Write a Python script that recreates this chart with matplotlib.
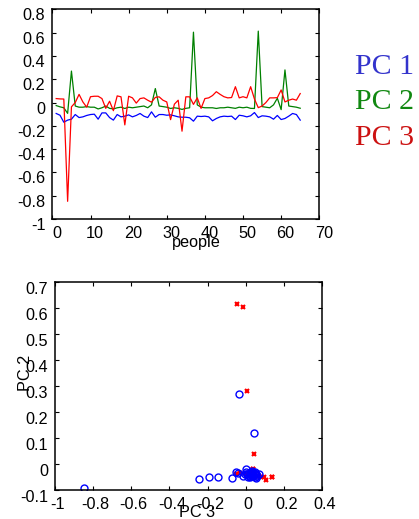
import numpy as np
import matplotlib
matplotlib.use('Agg')
import matplotlib.pyplot as plt
import matplotlib.transforms as mtransforms

plt.rcParams['font.family'] = ['Liberation Sans', 'DejaVu Sans']
plt.rcParams['axes.unicode_minus'] = False

#####################
# DATA
#####################
people = np.arange(1, 66)

pc1 = [-0.094, -0.109, -0.169, -0.151, -0.143, -0.103, -0.129, -0.123, -0.111, -0.103,
       -0.100, -0.143, -0.089, -0.089, -0.129, -0.151, -0.103, -0.123, -0.117, -0.106,
       -0.123, -0.111, -0.094, -0.117, -0.129, -0.080, -0.126, -0.103, -0.103, -0.109,
       -0.106, -0.114, -0.123, -0.126, -0.126, -0.131, -0.160, -0.117, -0.120, -0.117,
       -0.123, -0.157, -0.137, -0.123, -0.117, -0.120, -0.117, -0.146, -0.109, -0.114,
       -0.123, -0.114, -0.086, -0.129, -0.114, -0.117, -0.123, -0.143, -0.111, -0.146,
       -0.137, -0.117, -0.094, -0.103, -0.151]

pc2 = [-0.026, -0.037, -0.045, -0.093, 0.270, -0.030, -0.040, -0.040, -0.035, -0.040,
       -0.040, -0.055, -0.045, -0.030, -0.050, -0.055, -0.045, -0.040, -0.051, -0.040,
       -0.045, -0.040, -0.035, -0.030, -0.045, -0.020, 0.120, -0.030, -0.035, -0.040,
       -0.051, -0.045, -0.050, -0.059, -0.050, -0.045, 0.604, -0.020, -0.040, -0.045,
       -0.045, -0.045, -0.051, -0.045, -0.045, -0.040, -0.045, -0.050, -0.040, -0.045,
       -0.040, -0.050, -0.051, 0.613, -0.035, -0.040, -0.045, -0.020, 0.037, -0.061,
       0.280, -0.030, -0.035, -0.040, -0.049]

pc3 = [0.034, 0.031, 0.030, -0.848, -0.037, 0.000, 0.070, 0.005, -0.040, 0.050,
       0.054, 0.054, 0.034, -0.050, 0.011, -0.070, 0.057, 0.049, -0.192, 0.054,
       0.040, -0.005, 0.034, 0.040, 0.020, 0.003, 0.044, 0.049, 0.020, 0.005,
       -0.147, -0.014, 0.020, -0.246, 0.049, 0.049, -0.016, 0.040, -0.050, 0.034,
       0.040, 0.060, 0.093, 0.070, 0.050, 0.040, 0.043, 0.136, 0.040, 0.050,
       0.040, 0.136, 0.030, -0.044, -0.030, 0.000, 0.040, 0.040, 0.042, 0.108,
       0.005, 0.020, 0.030, 0.020, 0.077]

n_first = 35   # first group drawn as circles, rest as crosses

legend_labels = ['PC 1', 'PC 2', 'PC 3']
legend_colors = ['#3333cc', '#118811', '#cc1111']
line_colors = ['#0000ff', '#008000', '#ff0000']

top_xticks = [0, 10, 20, 30, 40, 50, 60, 70]
top_yticks = [-1, -0.8, -0.6, -0.4, -0.2, 0, 0.2, 0.4, 0.6, 0.8]
bot_xticks = [-1, -0.8, -0.6, -0.4, -0.2, 0, 0.2, 0.4]
bot_yticks = [-0.1, 0, 0.1, 0.2, 0.3, 0.4, 0.5, 0.6, 0.7]

fs = 11.7


def style_axes(ax, xt, yt, dx_px, dy_px):
    ax.set_xticks(xt)
    ax.set_yticks(yt)
    ax.set_xticklabels([f'{v:g}' for v in xt])
    ax.set_yticklabels([f'{v:g}' for v in yt])
    ax.set_xlim(xt[0], xt[-1])
    ax.set_ylim(yt[0], yt[-1])
    ax.tick_params(direction='in', top=True, right=True, length=3, width=0.8,
                   labelsize=fs, pad=5)
    for s in ax.spines.values():
        s.set_linewidth(1.1)
    # labels sit a bit off their ticks, like the original export
    offx = mtransforms.ScaledTranslation(dx_px / 100, 0, fig.dpi_scale_trans)
    offy = mtransforms.ScaledTranslation(0, -dy_px / 100, fig.dpi_scale_trans)
    for lab in ax.get_xticklabels():
        lab.set_transform(lab.get_transform() + offx)
    for lab in ax.get_yticklabels():
        lab.set_transform(lab.get_transform() + offy)


fig = plt.figure(figsize=(4.19, 5.19), dpi=100)

# top: the three components against people
ax1 = fig.add_axes([0.125, 0.578, 0.637, 0.404])
for series, c in zip([pc1, pc2, pc3], line_colors):
    ax1.plot(people, series, color=c, lw=0.9)
style_axes(ax1, top_xticks, top_yticks, 4.5, 5)
ax1.set_xlabel('people', fontsize=fs, va='center')
ax1.xaxis.set_label_coords(0.541, -0.11)

for i, (lab, c) in enumerate(zip(legend_labels, legend_colors)):
    fig.text(0.847, 0.8715 - i * 0.0685, lab, color=c, fontsize=21.5,
             family=['Liberation Serif', 'DejaVu Serif'], ha='left', va='center')

# bottom: PC 3 vs PC 2
ax2 = fig.add_axes([0.131, 0.056, 0.638, 0.401])
ax2.plot(pc3[n_first:], pc2[n_first:], 'x', color='#ff0000', ms=3, mew=1.5)
ax2.plot(pc3[:n_first], pc2[:n_first], 'o', mfc='none', mec='#0000ff', ms=5, mew=1.0)
style_axes(ax2, bot_xticks, bot_yticks, 2.5, 6.5)
ax2.set_xlabel('PC 3', fontsize=fs, va='center')
ax2.xaxis.set_label_coords(0.530, -0.11)
ax2.set_ylabel('PC 2', fontsize=fs, va='center', ha='center')
ax2.yaxis.set_label_coords(-0.11, 0.562)

fig.savefig('out.png', dpi=100)
